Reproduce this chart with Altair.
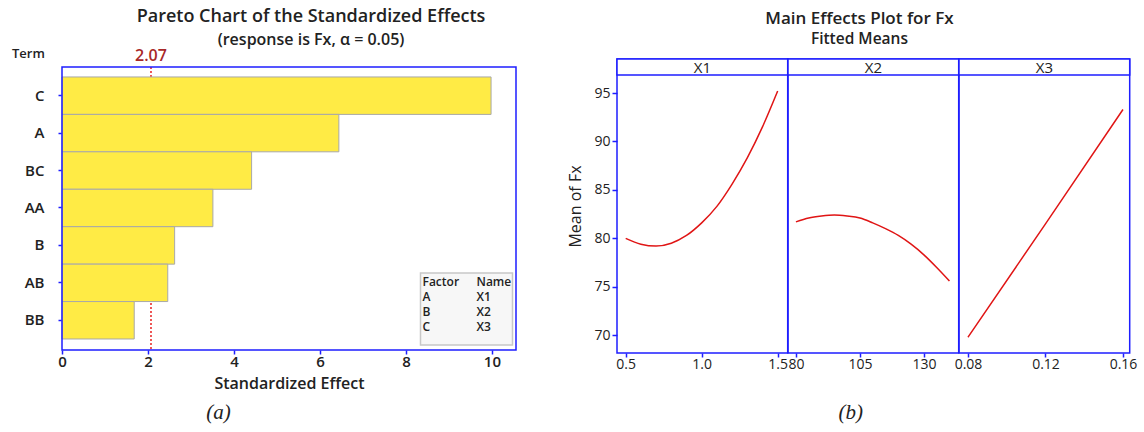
import altair as alt
import pandas as pd

# ---------------- data ----------------
terms = ["C", "A", "BC", "AA", "B", "AB", "BB"]
effects = [9.98, 6.44, 4.41, 3.51, 2.62, 2.46, 1.68]
crit = 2.07
x_ticks_left = [0, 2, 4, 6, 8, 10]
factors = ["A", "B", "C"]
factor_names = ["X1", "X2", "X3"]

x1_vals = [0.5, 0.6, 0.7, 0.8, 0.9, 1.0, 1.1, 1.2, 1.3, 1.4, 1.5]
x1_fx = [80.0, 79.4, 79.2, 79.5, 80.3, 81.6, 83.3, 85.6, 88.3, 91.5, 95.2]
x2_vals = [80, 85, 90, 95, 100, 105, 110, 115, 120, 125, 130, 135, 140]
x2_fx = [81.7, 82.1, 82.3, 82.4, 82.3, 82.1, 81.6, 81.0, 80.3, 79.4, 78.3, 77.0, 75.6]
x3_vals = [0.08, 0.12, 0.16]
x3_fx = [69.8, 81.5, 93.3]
y_ticks_right = [70, 75, 80, 85, 90, 95]

# ---------------- style ----------------
FONT = "Open Sans"
BLUE = "#1E1EFF"
TXT = "#222222"
W1, H1 = 454, 291
PW, PH = 170.7, 294

# ---------------- left: Pareto chart ----------------
bars_df = pd.DataFrame({"term": terms, "effect": effects})
crit_df = pd.DataFrame({"crit": [crit]})
one = pd.DataFrame({"k": [0]})

xscale = alt.Scale(domain=[0, 10.56], nice=False, zero=True)
xaxis = alt.Axis(values=x_ticks_left, title="Standardized Effect", grid=False, domain=False,
                 tickColor=BLUE, tickSize=4, tickWidth=1.5, labelFontSize=15, labelFontWeight=600,
                 labelColor=TXT, labelPadding=0, labelFlush=False, titleFontSize=16,
                 titleFontWeight=600, titleColor=TXT, titlePadding=6)
yscale = alt.Scale(paddingInner=0, paddingOuter=0.387, align=0.62)
yaxis = alt.Axis(title=None, domain=False, grid=False, tickColor=BLUE, tickSize=4, tickWidth=1.5,
                 labelFontSize=15, labelFontWeight=600, labelColor=TXT, labelPadding=14)

rule = alt.Chart(crit_df).mark_rule(color="#E8201F", strokeDash=[2, 2], strokeWidth=1.5).encode(
    x=alt.X("crit:Q", scale=xscale, axis=xaxis), y=alt.value(8), y2=alt.value(H1))

bars = alt.Chart(bars_df).mark_bar(color="#FFEB45", stroke="#A8A8A8", strokeWidth=1).encode(
    x=alt.X("effect:Q", scale=xscale, axis=xaxis),
    y=alt.Y("term:N", sort=terms, scale=yscale, axis=yaxis))

frame = alt.Chart(one).mark_rect(fillOpacity=0, stroke=BLUE, strokeWidth=1.5).encode(
    x=alt.value(0), x2=alt.value(W1), y=alt.value(8), y2=alt.value(H1))

leg_box = alt.Chart(one).mark_rect(fill="#F7F7F7", stroke="#C8C8C8", strokeWidth=1.5).encode(
    x=alt.value(358.5), x2=alt.value(450.5), y=alt.value(214), y2=alt.value(286))

leg_df = pd.DataFrame({"c1": ["\n".join(["Factor"] + factors)],
                       "c2": ["\n".join(["Name"] + factor_names)]})
leg_t1 = alt.Chart(leg_df).mark_text(align="left", baseline="top", lineBreak="\n", lineHeight=15,
                                     fontSize=12, font=FONT, color=TXT, fontWeight=600).encode(
    x=alt.value(360.5), y=alt.value(218), text="c1:N")
leg_t2 = alt.Chart(leg_df).mark_text(align="left", baseline="top", lineBreak="\n", lineHeight=15,
                                     fontSize=12, font=FONT, color=TXT, fontWeight=600).encode(
    x=alt.value(414.5), y=alt.value(218), text="c2:N")

crit_lbl = alt.Chart(crit_df).mark_text(fontSize=16, font=FONT, color="#A82828", fontWeight=600,
                                        baseline="alphabetic").encode(
    x=alt.X("crit:Q", scale=xscale, axis=xaxis), y=alt.value(2),
    text=alt.Text("crit:Q", format=".2f"))

term_lbl = alt.Chart(one).mark_text(text="Term", align="left", baseline="alphabetic", fontSize=13,
                                    font=FONT, color=TXT, fontWeight=600).encode(
    x=alt.value(-50), y=alt.value(-1))

cap_a = alt.Chart(one).mark_text(text="(a)", fontSize=21, font="Liberation Serif", fontStyle="italic",
                                 color=TXT, baseline="middle").encode(
    x=alt.value(156.5), y=alt.value(354))

left = alt.layer(rule, bars, frame, leg_box, leg_t1, leg_t2, crit_lbl, term_lbl, cap_a).properties(
    width=W1, height=H1, view=alt.ViewBackground(strokeWidth=0),
    title=alt.TitleParams("Pareto Chart of the Standardized Effects",
                          subtitle="(response is Fx, \u03b1 = 0.05)", anchor="middle", frame="group",
                          dx=22, fontSize=18, fontWeight=600, color=TXT, subtitleFontSize=16,
                          subtitleFontWeight=600, subtitleColor=TXT, offset=0, subtitlePadding=6))

# ---------------- right: main effects ----------------
def panel(xv, yv, name, domain, ticks, fmt, show_y, caption=None):
    df = pd.DataFrame({"x": xv, "fx": yv})
    xs = alt.Scale(domain=domain, nice=False, zero=False)
    ys = alt.Scale(domain=[68.17, 98.51], nice=False, zero=False)
    xax = alt.Axis(values=ticks, format=fmt, title=None, grid=False, domain=False, tickColor=BLUE,
                   tickSize=4, tickWidth=1.5, labelFontSize=14, labelColor=TXT, labelPadding=0,
                   labelFlush=False)
    if show_y:
        yenc = alt.Y("fx:Q", scale=ys, axis=alt.Axis(values=y_ticks_right, title="Mean of Fx", grid=False,
                                                    domain=False, tickColor=BLUE, tickSize=5, tickWidth=1.5,
                                                    labelFontSize=14, labelColor=TXT, labelPadding=2,
                                                    titleFontSize=16, titleFontWeight=500, titleColor=TXT,
                                                    titlePadding=10))
    else:
        yenc = alt.Y("fx:Q", scale=ys, axis=None)
    line = alt.Chart(df).mark_line(color="#E01515", strokeWidth=1.5, interpolate="monotone").encode(
        x=alt.X("x:Q", scale=xs, axis=xax), y=yenc)
    nd = pd.DataFrame({"name": [name]})
    strip = alt.Chart(nd).mark_rect(fill="#FFFFFF", stroke=BLUE, strokeWidth=1.5).encode(
        x=alt.value(0), x2=alt.value(PW), y=alt.value(0), y2=alt.value(16))
    lab = alt.Chart(nd).mark_text(fontSize=15, font=FONT, color=TXT, fontWeight=500,
                                  baseline="middle").encode(
        x=alt.value(PW / 2), y=alt.value(8.5), text="name:N")
    layers = [line, strip, lab]
    if caption:
        layers.append(alt.Chart(one).mark_text(text=caption, fontSize=21, font="Liberation Serif",
                                               fontStyle="italic", color=TXT, baseline="middle").encode(
            x=alt.value(62.7), y=alt.value(354)))
    return alt.layer(*layers).properties(width=PW, height=PH)

p1 = panel(x1_vals, x1_fx, factor_names[0], [0.4428, 1.566], [0.5, 1.0, 1.5], ".1f", True)
p2 = panel(x2_vals, x2_fx, factor_names[1], [76.9, 143.6], [80, 105, 130], "d", False, "(b)")
p3 = panel(x3_vals, x3_fx, factor_names[2], [0.07536, 0.16346], [0.08, 0.12, 0.16], ".2f", False)

right = alt.hconcat(p1, p2, p3, spacing=0, bounds="flush",
                    title=alt.TitleParams("Main Effects Plot for Fx", subtitle="Fitted Means",
                                          anchor="middle", dx=7, fontSize=17, fontWeight=600, color=TXT,
                                          subtitleFontSize=15.5, subtitleFontWeight=600, subtitleColor=TXT,
                                          offset=9, subtitlePadding=4))

chart = alt.hconcat(left, right, spacing=50).properties(
    padding={"left": 12, "top": 8, "right": 0, "bottom": 0}
).configure(font=FONT).configure_view(stroke=BLUE, strokeWidth=1.5).configure_axis(
    labelFont=FONT, titleFont=FONT, grid=False).configure_title(font=FONT, subtitleFont=FONT)

chart.save("out.html", embed_options={"renderer": "svg", "actions": False})
